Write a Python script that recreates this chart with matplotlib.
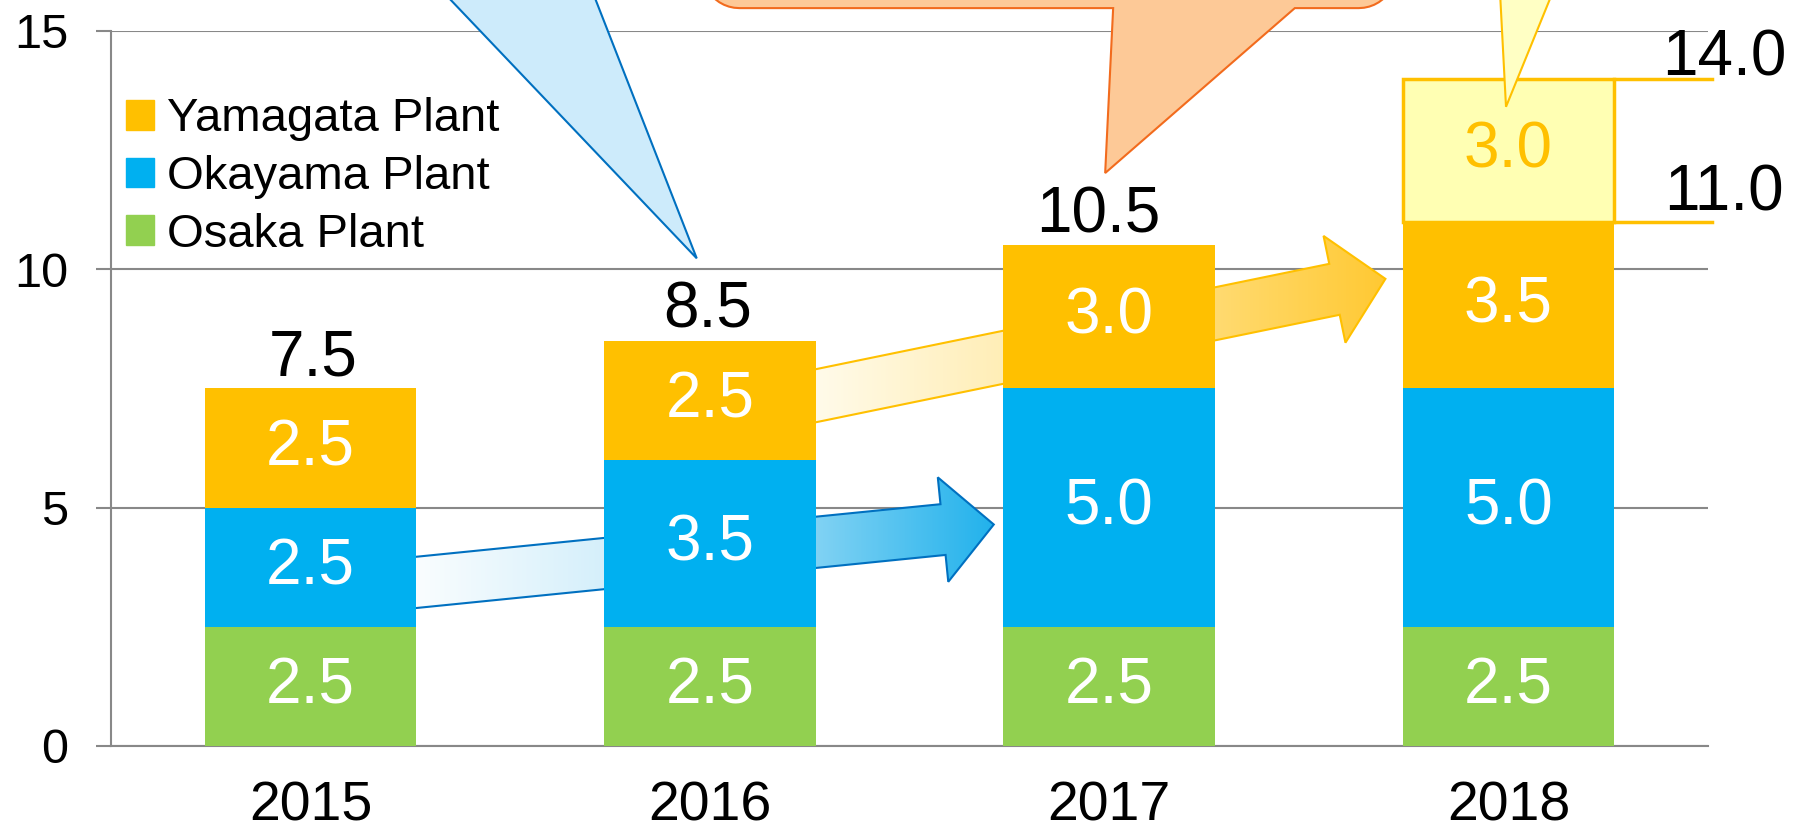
import numpy as np
import matplotlib.pyplot as plt
from matplotlib.patches import Polygon, Patch
from matplotlib.colors import LinearSegmentedColormap

plt.rcParams['font.family'] = ['Liberation Sans', 'DejaVu Sans']

# production capacity by plant
years = ['2015', '2016', '2017', '2018']
osaka = [2.5, 2.5, 2.5, 2.5]
okayama = [2.5, 3.5, 5.0, 5.0]
yamagata = [2.5, 2.5, 3.0, 3.5]
yamagata_plan = [0, 0, 0, 3.0]   # planned expansion (2018 only)

c_osaka = '#92D050'
c_okayama = '#00B0F0'
c_yamagata = '#FFC000'
c_plan = '#FFFFB3'

fig = plt.figure(figsize=(18, 8.31), dpi=100)
ax = fig.add_axes([0.0617, 0.1023, 0.8872, 0.8604])
ax.set_xlim(-0.5, 3.5)
ax.set_ylim(0, 15)

x = np.arange(len(years))
w = 0.53
osaka = np.array(osaka)
okayama = np.array(okayama)
yamagata = np.array(yamagata)
yamagata_plan = np.array(yamagata_plan)
top = osaka + okayama + yamagata

ax.bar(x, osaka, w, color=c_osaka, zorder=3)
ax.bar(x, okayama, w, bottom=osaka, color=c_okayama, zorder=3)
ax.bar(x, yamagata, w, bottom=osaka + okayama, color=c_yamagata, zorder=3)
m = yamagata_plan > 0
ax.bar(x[m], yamagata_plan[m], w, bottom=top[m], color=c_plan,
       edgecolor=c_yamagata, linewidth=2.5, zorder=3)

# segment labels
fs_val = 46
total_dx = [2, -2, -8, 0]   # small nudges of the total labels (points)
for i in range(len(years)):
    ax.text(x[i], osaka[i] / 2, f'{osaka[i]:.1f}', ha='center', va='center',
            color='white', fontsize=fs_val, zorder=5)
    ax.text(x[i], osaka[i] + okayama[i] / 2, f'{okayama[i]:.1f}', ha='center',
            va='center', color='white', fontsize=fs_val, zorder=5)
    ax.text(x[i], osaka[i] + okayama[i] + yamagata[i] / 2, f'{yamagata[i]:.1f}',
            ha='center', va='center', color='white', fontsize=fs_val, zorder=5)
    if yamagata_plan[i] > 0:
        ax.text(x[i], top[i] + yamagata_plan[i] / 2, f'{yamagata_plan[i]:.1f}',
                ha='center', va='center', color=c_yamagata, fontsize=fs_val, zorder=5)
        # totals on the right side with leader lines
        for v, off in [(top[i] + yamagata_plan[i], 2.5), (top[i], 8)]:
            ax.plot([x[i] + w / 2, 3.51], [v, v], color=c_yamagata, lw=2.5,
                    clip_on=False, zorder=4)
            ax.annotate(f'{v:.1f}', (3.54, v), xytext=(0, off),
                        textcoords='offset points', ha='center', va='baseline',
                        fontsize=fs_val, annotation_clip=False)
    else:
        ax.annotate(f'{top[i]:.1f}', (x[i], top[i]), xytext=(total_dx[i], 0),
                    textcoords='offset points', ha='center', va='bottom',
                    fontsize=fs_val)


def block_arrow(p0, p1, shaft_w, head_w, head_l, colors, edge):
    t = ax.transData
    a = t.transform(p0)
    b = t.transform(p1)
    d = b - a
    u = d / np.hypot(*d)
    n = np.array([-u[1], u[0]])
    neck = b - u * head_l
    pts = [a + n * shaft_w / 2, neck + n * shaft_w / 2, neck + n * head_w / 2, b,
           neck - n * head_w / 2, neck - n * shaft_w / 2, a - n * shaft_w / 2]
    dp = t.inverted().transform(pts)
    poly = Polygon(dp, closed=True, facecolor='none', edgecolor=edge, lw=1.5,
                   zorder=2.1)
    ax.add_patch(poly)
    cmap = LinearSegmentedColormap.from_list('g', colors)
    grad = np.linspace(0, 1, 256).reshape(1, -1)
    im = ax.imshow(grad, extent=[dp[:, 0].min(), dp[:, 0].max(),
                                 dp[:, 1].min(), dp[:, 1].max()],
                   cmap=cmap, aspect='auto', zorder=2)
    im.set_clip_path(poly)


block_arrow((0.2, 3.378), (1.711, 4.647), 51, 105, 51,
            ['#FFFFFF', '#C4E9F9', '#22B2EC'], '#0070C0')
block_arrow((1.2, 7.236), (2.692, 9.80), 52, 109, 52,
            ['#FFFDF2', '#FFE8A0', '#FFC933'], c_yamagata)


def wedge(tip, base_l, base_r, fc, ec):
    tip = np.array(tip)
    bl = tip + (np.array(base_l) - tip) * 1.6
    br = tip + (np.array(base_r) - tip) * 1.6
    ax.add_patch(Polygon([bl, tip, br], closed=True, facecolor=fc, edgecolor=ec,
                         lw=1.5, clip_on=False, zorder=6))


def callout(left, right, bottom, wl, wr, tip, r, fc, ec):
    t = ax.transData
    (lx, by), (rx, ty) = t.transform([(left, bottom), (right, 19)])
    wlx = t.transform((wl, bottom))[0]
    wrx = t.transform((wr, bottom))[0]
    pts = [(lx, ty), (lx, by + r)]
    for ang in np.linspace(np.pi, 1.5 * np.pi, 12):
        pts.append((lx + r + r * np.cos(ang), by + r + r * np.sin(ang)))
    pts += [(wlx, by), tuple(t.transform(tip)), (wrx, by)]
    for ang in np.linspace(1.5 * np.pi, 2 * np.pi, 12):
        pts.append((rx - r + r * np.cos(ang), by + r + r * np.sin(ang)))
    pts.append((rx, ty))
    dp = t.inverted().transform(pts)
    ax.add_patch(Polygon(dp, closed=True, facecolor=fc, edgecolor=ec, lw=1.5,
                         clip_on=False, zorder=6))


wedge((0.967, 10.23), (0.351, 15.65), (0.714, 15.65), '#CDEBFB', '#0070C0')
callout(0.981, 2.718, 15.48, 2.010, 2.465, (1.990, 12.02), 37, '#FDC997', '#F26B1D')
wedge((2.994, 13.41), (2.980, 15.65), (3.103, 15.65), '#FFFFC4', c_yamagata)

# axes styling
ax.set_xticks(x)
ax.set_xticklabels(years)
ax.set_yticks([0, 5, 10, 15])
ax.tick_params(axis='x', length=0, labelsize=40, pad=25)
ax.tick_params(axis='y', length=11, width=1.5, color='#888888', labelsize=35, pad=20)
ax.yaxis.grid(True, color='#888888', lw=1.5, zorder=0.5)
ax.set_axisbelow(True)
for s in ['top', 'right']:
    ax.spines[s].set_visible(False)
for s in ['left', 'bottom']:
    ax.spines[s].set_color('#888888')
    ax.spines[s].set_linewidth(1.5)

handles = [Patch(color=c_yamagata, label='Yamagata Plant'),
           Patch(color=c_okayama, label='Okayama Plant'),
           Patch(color=c_osaka, label='Osaka Plant')]
ax.legend(handles=handles, loc='upper left', bbox_to_anchor=(0.0094, 0.907),
          frameon=False, fontsize=34, handlelength=0.593, handleheight=0.593,
          handletextpad=0.275, labelspacing=0.29, borderpad=0, borderaxespad=0)

ax.set_xlim(-0.5, 3.5)
ax.set_ylim(0, 15)
fig.savefig('out.png', dpi=100)
